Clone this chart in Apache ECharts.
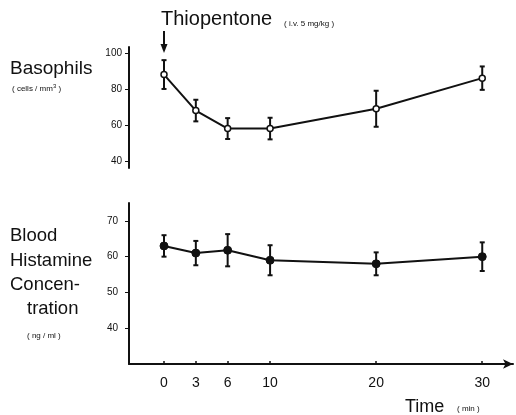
<!DOCTYPE html>
<html><head><meta charset="utf-8">
<script src="https://cdn.jsdelivr.net/npm/echarts@6/dist/echarts.min.js"></script>
<style>html,body{margin:0;padding:0;background:#fff}#c{width:516px;height:415px}</style>
</head><body><div id="c"></div>
<script>
const times = [0, 3, 6, 10, 20, 30];
const basoMean = [88, 68, 58, 58, 69, 86];
const basoErr = [8, 6, 5.8, 6, 10, 6.5];
const histMean = [63, 61, 61.8, 59, 58, 60];
const histErr = [3, 3.4, 4.5, 4.2, 3.2, 4];
const basoTicks = [40, 60, 80, 100];
const histTicks = [40, 50, 60, 70];
const timeTicks = [0, 3, 6, 10, 20, 30];

const FONT = 'Liberation Sans, Arial, sans-serif';
const INK = '#111';

function errData(mean, err) {
  return times.map((t, i) => [t, mean[i] - err[i], mean[i] + err[i]]);
}
function renderErr(params, api) {
  const lo = api.coord([api.value(0), api.value(1)]);
  const hi = api.coord([api.value(0), api.value(2)]);
  const cw = 2.5;
  const st = { stroke: INK, lineWidth: 2 };
  return { type: 'group', children: [
    { type: 'line', shape: { x1: lo[0], y1: lo[1], x2: hi[0], y2: hi[1] }, style: st },
    { type: 'line', shape: { x1: lo[0] - cw, y1: lo[1], x2: lo[0] + cw, y2: lo[1] }, style: st },
    { type: 'line', shape: { x1: hi[0] - cw, y1: hi[1], x2: hi[0] + cw, y2: hi[1] }, style: st }
  ]};
}

const chart = echarts.init(document.getElementById('c'), null, { renderer: 'canvas' });
const xCommon = { type: 'value', min: -3.3, max: 32.9, splitLine: { show: false } };
const yCommon = {
  type: 'value', splitLine: { show: false },
  axisLine: { show: true, onZero: false, lineStyle: { color: INK, width: 2 } },
  axisTick: { show: true, length: 4, lineStyle: { color: INK, width: 1 } },
  axisLabel: { color: INK, fontSize: 10, fontFamily: FONT, margin: 7 }
};
chart.setOption({
  animation: false,
  backgroundColor: '#fff',
  grid: [
    { left: 129, right: 3, top: 47, height: 121 },
    { left: 129, right: 3, top: 203, height: 161 }
  ],
  xAxis: [
    Object.assign({}, xCommon, { gridIndex: 0, show: false }),
    Object.assign({}, xCommon, {
      gridIndex: 1,
      axisLine: { show: true, onZero: false, symbol: ['none', 'arrow'], symbolSize: [7, 10], lineStyle: { color: INK, width: 2 } },
      axisTick: { show: true, inside: true, length: 3, customValues: timeTicks, lineStyle: { color: INK, width: 1.5 } },
      axisLabel: { customValues: timeTicks, color: INK, fontSize: 14, fontFamily: FONT, margin: 12 }
    })
  ],
  yAxis: [
    Object.assign({}, yCommon, { gridIndex: 0, min: 36.1, max: 103.3,
      axisTick: Object.assign({}, yCommon.axisTick, { customValues: basoTicks }),
      axisLabel: Object.assign({}, yCommon.axisLabel, { customValues: basoTicks }) }),
    Object.assign({}, yCommon, { gridIndex: 1, min: 30, max: 75,
      axisTick: Object.assign({}, yCommon.axisTick, { customValues: histTicks }),
      axisLabel: Object.assign({}, yCommon.axisLabel, { customValues: histTicks, margin: 11 }) })
  ],
  series: [
    { type: 'custom', xAxisIndex: 0, yAxisIndex: 0, data: errData(basoMean, basoErr), renderItem: renderErr, z: 1 },
    { type: 'line', xAxisIndex: 0, yAxisIndex: 0, data: times.map((t, i) => [t, basoMean[i]]),
      symbol: 'circle', symbolSize: 6, lineStyle: { color: INK, width: 2 },
      itemStyle: { color: '#fff', borderColor: INK, borderWidth: 1.5 }, z: 3 },
    { type: 'custom', xAxisIndex: 1, yAxisIndex: 1, data: errData(histMean, histErr), renderItem: renderErr, z: 1 },
    { type: 'line', xAxisIndex: 1, yAxisIndex: 1, data: times.map((t, i) => [t, histMean[i]]),
      symbol: 'circle', symbolSize: 8, lineStyle: { color: INK, width: 2 },
      itemStyle: { color: INK, borderColor: INK }, z: 3 }
  ]
});

const x0 = chart.convertToPixel({ xAxisIndex: 0 }, 0);
const txt = (x, y, s, size, extra) => Object.assign({ type: 'text', x: x, y: y,
  style: { text: s, fill: INK, font: size + 'px ' + FONT, textVerticalAlign: 'middle' } }, extra || {});
chart.setOption({
  graphic: [
    txt(x0 - 3, 19, 'Thiopentone', 20),
    txt(284, 24, '( i.v. 5 mg/kg )', 8),
    { type: 'line', shape: { x1: x0, y1: 31, x2: x0, y2: 46 }, style: { stroke: INK, lineWidth: 2 } },
    { type: 'polygon', shape: { points: [[x0 - 3.5, 44], [x0 + 3.5, 44], [x0, 53]] }, style: { fill: INK } },
    txt(10, 69, 'Basophils', 19),
    { type: 'text', x: 12, y: 89, style: { rich: { n: { fontSize: 8, fontFamily: FONT, fill: INK }, s: { fontSize: 6, fontFamily: FONT, fill: INK, verticalAlign: 'top', padding: [0,0,5,0] } }, text: '{n|( cells / mm}{s|3}{n| )}', textVerticalAlign: 'middle' } },
    txt(10, 236, 'Blood', 18.5),
    txt(10, 261, 'Histamine', 18.5),
    txt(10, 285, 'Concen-', 18.5),
    txt(27, 309, 'tration', 18.5),
    txt(27, 336, '( ng / ml )', 8),
    txt(405, 407, 'Time', 18),
    txt(457, 409, '( min )', 8)
  ]
});
</script></body></html>
